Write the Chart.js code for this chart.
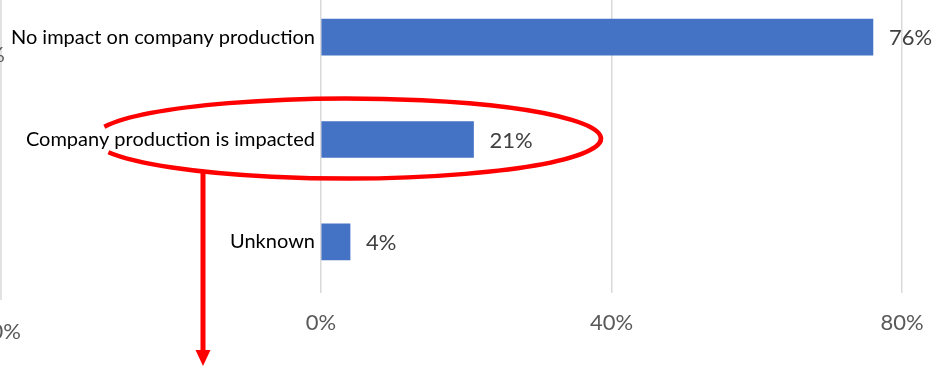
<!DOCTYPE html>
<html>
<head>
<meta charset="utf-8">
<script src="https://cdn.jsdelivr.net/npm/chart.js@4.4.1/dist/chart.umd.min.js"></script>
<style>
  html, body { margin: 0; padding: 0; background: #fff; overflow: hidden; }
  #wrap { position: relative; top: -14px; width: 945px; height: 381px; }
</style>
</head>
<body>
<div id="wrap"><canvas id="impactChart" width="945" height="381"></canvas></div>
<script>
const categories = ["No impact on company production", "Company production is impacted", "Unknown"];
const shares = [76, 21, 4];
const tickValues = [0, 40, 80];

const FONT = "Lato";
const TOP_SHIFT = 14; // canvas is pulled up so the first band is clipped

// value labels to the right of each bar
const valueLabels = {
    id: "valueLabels",
    afterDatasetsDraw(chart) {
        const ctx = chart.ctx;
        const meta = chart.getDatasetMeta(0);
        ctx.save();
        ctx.font = "22px " + FONT;
        ctx.fillStyle = "#404040";
        ctx.textAlign = "left";
        ctx.textBaseline = "middle";
        meta.data.forEach((bar, i) => {
            ctx.fillText(shares[i] + "%", bar.x + 16, bar.y + 1);
        });
        ctx.restore();
    }
};

// red callout ring + arrow, and the bits of the neighbouring chart on the left
const callout = {
    id: "callout",
    afterDraw(chart) {
        const ctx = chart.ctx;
        const y = chart.scales.y;
        const cy = y.getPixelForValue(1) - 1;
        const s = TOP_SHIFT;
        ctx.save();

        // neighbouring chart fragments
        ctx.strokeStyle = "#d9d9d9";
        ctx.lineWidth = 1.5;
        ctx.beginPath();
        ctx.moveTo(1, 0);
        ctx.lineTo(1, 300 + s);
        ctx.stroke();
        ctx.fillStyle = "#595959";
        ctx.font = "22px " + FONT;
        ctx.textAlign = "right";
        ctx.textBaseline = "middle";
        ctx.fillText("40%", 21, 332 + s);
        ctx.fillText("0%", 5, 55 + s);

        // ring around the second bar
        ctx.strokeStyle = "#ff0000";
        ctx.lineWidth = 4.5;
        ctx.beginPath();
        ctx.ellipse(347, cy, 254, 40, 0, Math.PI + 0.30, 3 * Math.PI - 0.35);
        ctx.stroke();

        // arrow down from the ring
        ctx.lineWidth = 5;
        ctx.beginPath();
        ctx.moveTo(203, cy + 33);
        ctx.lineTo(203, 352 + s);
        ctx.stroke();
        ctx.fillStyle = "#ff0000";
        ctx.beginPath();
        ctx.moveTo(195.5, 350 + s);
        ctx.lineTo(210.5, 350 + s);
        ctx.lineTo(203, 366 + s);
        ctx.closePath();
        ctx.fill();
        ctx.restore();
    }
};

new Chart(document.getElementById("impactChart"), {
    type: "bar",
    data: {
        labels: categories,
        datasets: [{
            data: shares,
            backgroundColor: "#4472c4",
            borderWidth: 0,
            barThickness: 36
        }]
    },
    options: {
        indexAxis: "y",
        responsive: false,
        devicePixelRatio: 1,
        animation: false,
        layout: { padding: { left: 0, right: 43, top: 0, bottom: 0 } },
        plugins: {
            legend: { display: false },
            tooltip: { enabled: false }
        },
        scales: {
            x: {
                min: 0,
                max: 80,
                afterBuildTicks(scale) {
                    scale.ticks = tickValues.map(v => ({ value: v }));
                },
                afterFit(scale) { scale.height = 74; },
                grid: { color: "#d9d9d9", lineWidth: 1.5, drawTicks: false },
                border: { display: false },
                ticks: {
                    padding: 17,
                    color: "#595959",
                    font: { family: FONT, size: 22 },
                    callback: v => v + "%"
                }
            },
            y: {
                afterFit(scale) {
                    scale.width = 321;
                    scale.paddingTop = 0;
                    scale.paddingBottom = 0;
                },
                grid: { display: false, drawTicks: false },
                border: { display: false },
                ticks: {
                    padding: 6,
                    color: "#000000",
                    font: { family: FONT, size: 20 }
                }
            }
        }
    },
    plugins: [valueLabels, callout]
});
</script>
</body>
</html>
